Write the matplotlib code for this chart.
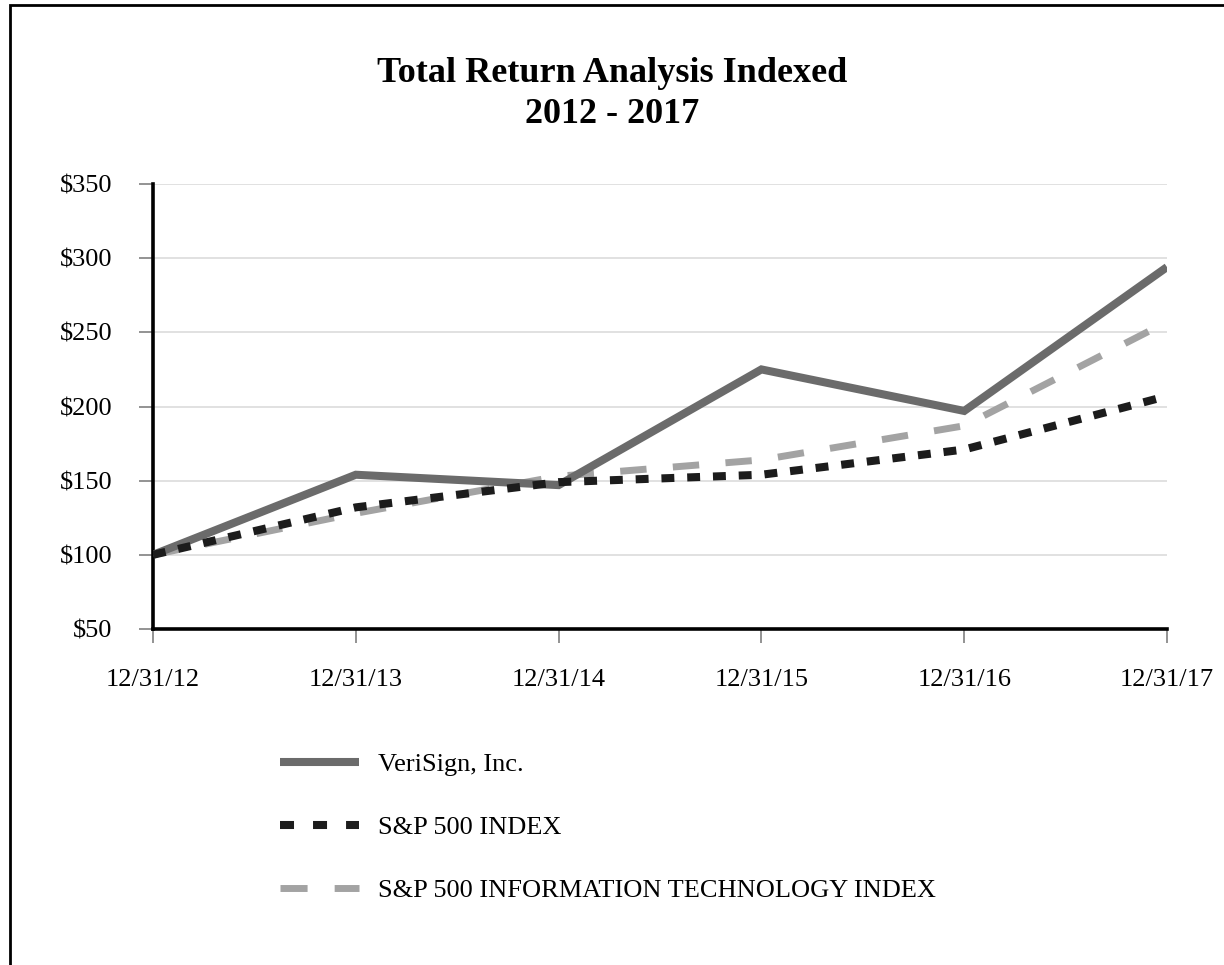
"""Total return analysis chart, 2012-2017."""

import matplotlib
matplotlib.use("Agg")
import matplotlib.pyplot as plt
from matplotlib.lines import Line2D
from matplotlib.patches import Rectangle

plt.rcParams["font.family"] = ["Liberation Serif", "DejaVu Serif"]

DATES = ["12/31/12", "12/31/13", "12/31/14", "12/31/15", "12/31/16", "12/31/17"]
VERISIGN = [100, 154, 147, 225, 197, 294]
SP500 = [100, 132, 149, 154, 171, 207]
SP500_IT = [100, 128, 153, 164, 187, 257]
Y_TICKS = [50, 100, 150, 200, 250, 300, 350]
LABELS = ["VeriSign, Inc.", "S&P 500 INDEX", "S&P 500 INFORMATION TECHNOLOGY INDEX"]
COLORS = ["#6b6b6b", "#1c1c1c", "#a3a3a3"]

W, H = 1224, 965
fig = plt.figure(figsize=(W / 100, H / 100), dpi=100)
fig.patch.set_facecolor("white")

# outer frame (only top and left edges visible in the original crop)
fig.add_artist(Rectangle((9.5 / W, -0.05), 1.2, 1.05 - 5 / H, transform=fig.transFigure,
                         fill=False, edgecolor="black", linewidth=2.0))

ax = fig.add_axes([153 / W, 1 - 629 / H, (1167 - 153) / W, (629 - 184) / H])
x = range(len(DATES))

ax.plot(x, VERISIGN, color=COLORS[0], lw=5.8, solid_capstyle="butt",
        solid_joinstyle="miter", zorder=3)
ax.plot(x, SP500, color=COLORS[1], lw=5.8, dashes=(1.6, 1.6), dash_capstyle="butt", zorder=4)
ax.plot(x, SP500_IT, color=COLORS[2], lw=5.0, dashes=(3.8, 3.8), dash_capstyle="butt", zorder=2)

ax.set_xlim(0, len(DATES) - 1)
ax.set_ylim(50, 350)
ax.set_yticks(Y_TICKS, [f"${v}" for v in Y_TICKS])
ax.set_xticks(list(x), DATES)
ax.grid(axis="y", color="#dcdcdc", linewidth=1.2)
ax.set_axisbelow(True)
for side in ["top", "right"]:
    ax.spines[side].set_visible(False)
for side in ["left", "bottom"]:
    ax.spines[side].set_linewidth(2.6)
    ax.spines[side].set_color("black")
ax.tick_params(axis="both", direction="out", length=10, width=1.2, color="#808080",
               labelsize=19)
ax.tick_params(axis="y", pad=19)
ax.tick_params(axis="x", pad=18.5)

fig.text(0.5, 1 - 94 / H, "Total Return Analysis Indexed\n2012 - 2017", ha="center",
         va="center", fontsize=26, fontweight="bold", linespacing=1.3)

# legend keys drawn with their own dash spacing, as in the original
handles = [
    Line2D([], [], color=COLORS[0], lw=5.8, solid_capstyle="butt"),
    Line2D([], [], color=COLORS[1], lw=5.8, dashes=(1.74, 2.36), dash_capstyle="butt"),
    Line2D([], [], color=COLORS[2], lw=5.0, dashes=(3.9, 3.9), dash_capstyle="butt"),
]
fig.legend(handles, LABELS, loc="upper left", bbox_to_anchor=(280 / W, 1 - 753 / H),
           frameon=False, fontsize=19, handlelength=3.0, handletextpad=0.7,
           labelspacing=1.49, borderpad=0, borderaxespad=0)

fig.savefig("out.png", dpi=100, facecolor="white")
